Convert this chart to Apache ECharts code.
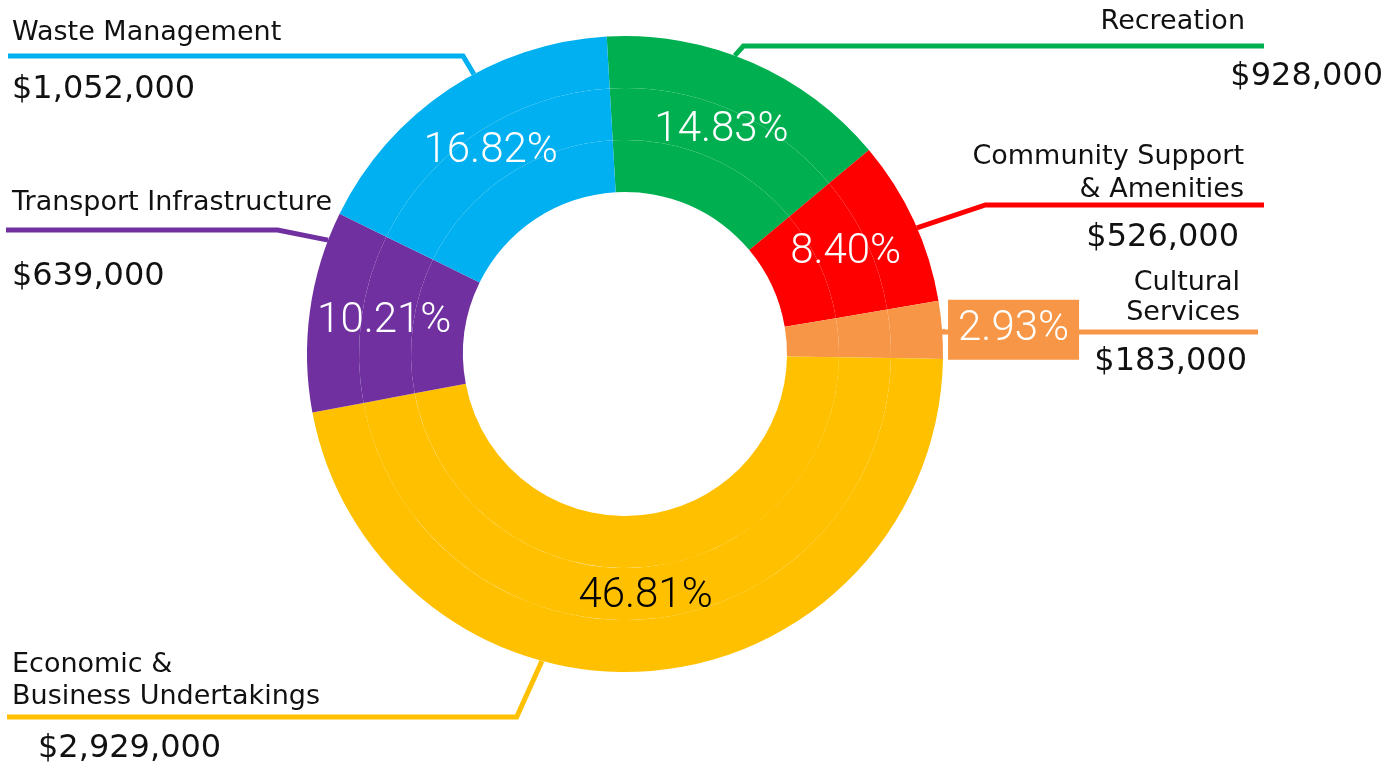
<!DOCTYPE html>
<html><head><meta charset="utf-8">
<script src="https://cdn.jsdelivr.net/npm/echarts/dist/echarts.min.js"></script>
<style>html,body{margin:0;padding:0;background:#fff}#c{width:1400px;height:762px}</style>
</head><body><div id="c"></div>
<script>
// ---- data ----
const categories = ['Recreation', 'Community Support & Amenities', 'Cultural Services',
  'Economic & Business Undertakings', 'Transport Infrastructure', 'Waste Management'];
const categoryLabelLines = [['Recreation'], ['Community Support', '& Amenities'], ['Cultural', 'Services'],
  ['Economic &', 'Business Undertakings'], ['Transport Infrastructure'], ['Waste Management']];
const amounts = [928000, 526000, 183000, 2929000, 639000, 1052000];
const percentLabels = ['14.83%', '8.40%', '2.93%', '46.81%', '10.21%', '16.82%'];

// ---- styles ----
const colors = ['#00B050', '#FF0000', '#F79646', '#FFC000', '#7030A0', '#00B0F0'];
const pctColors = ['#fff', '#fff', '#fff', '#000', '#fff', '#fff'];
// label / leader-line layout per category (anchorShift in degrees, rotates the library's anchor along the rim)
const leader = [
  { side: 'right', lineY: 46,  anchorShift: 3.2,   slope: 0.9,  edge: 17,  nameLH: 62, valLH: 48, namePad: 138, valPad: 0,  endMargin: 136 },
  { side: 'right', lineY: 205, anchorShift: -1.4,  slope: 3.0,  edge: 156, nameLH: 33, valLH: 63, namePad: 0,   valPad: 5,  endMargin: 136 },
  { side: 'right', lineY: 332, anchorShift: 0,     slope: 0.5,  edge: 153, nameLH: 30, valLH: 68, namePad: 7,   valPad: 0,  endMargin: 142 },
  { side: 'left',  lineY: 717, anchorShift: -20.0, slope: 0.45, edge: 12,  nameLH: 32, valLH: 72, namePad: 0,   valPad: 26, endMargin: 7 },
  { side: 'left',  lineY: 230, anchorShift: -13.2, slope: 5.0,  edge: 12,  nameLH: 94, valLH: 54, namePad: 0,   valPad: 0,  endMargin: 6 },
  { side: 'left',  lineY: 56,  anchorShift: -5.2,  slope: 0.6,  edge: 12,  nameLH: 68, valLH: 46, namePad: 0,   valPad: 0,  endMargin: 8 }
];
const CENTER = [625, 354];
const START = 93.3;
const NAME_FONT = 'DejaVu Sans';
const PCT_FONT = 'Roboto';

const chart = echarts.init(document.getElementById('c'), null, { renderer: 'canvas' });
const W = 1400;

function fmtMoney(v) { return '$' + v.toLocaleString('en-US'); }

function baseSeries(radius, z) {
  return {
    type: 'pie', radius: radius, center: CENTER, startAngle: START, clockwise: true,
    avoidLabelOverlap: false, silent: true, z: z, animation: false,
    emphasis: { disabled: true },
    itemStyle: { borderWidth: 0 }
  };
}

const inner = Object.assign(baseSeries([162, 214], 2), {
  label: { show: false }, labelLine: { show: false },
  data: categories.map((c, i) => ({ name: c, value: amounts[i], itemStyle: { color: colors[i] } }))
});

const middle = Object.assign(baseSeries([214, 266], 4), {
  label: {
    show: true, fontFamily: PCT_FONT, fontSize: 42, fontWeight: 300, lineHeight: 42,
    formatter: p => percentLabels[p.dataIndex]
  },
  labelLine: { show: false },
  data: categories.map((c, i) => {
    const d = { name: c, value: amounts[i], itemStyle: { color: colors[i] } };
    if (i === 2) {
      d.label = { position: 'outside', color: '#fff', backgroundColor: colors[i], padding: [9, 10, 9, 10] };
      d.labelLine = { show: false, length: 53, length2: 0 };
    } else {
      d.label = { position: 'inside', color: pctColors[i] };
    }
    return d;
  })
});

const outer = Object.assign(baseSeries([266, 318], 2), {
  label: { show: true, position: 'outside' },
  labelLine: { show: true, length: 10, length2: 10, smooth: false },
  labelLayout: function (p) {
    const st = leader[p.dataIndex];
    const pts = p.labelLinePoints;
    if (!pts) return {};
    // rotate the library's rim anchor along the rim
    const dx0 = pts[0][0] - CENTER[0], dy0 = CENTER[1] - pts[0][1];
    const rr = Math.sqrt(dx0 * dx0 + dy0 * dy0);
    const th = Math.atan2(dy0, dx0) + st.anchorShift * Math.PI / 180;
    const p0 = [CENTER[0] + rr * Math.cos(th), CENTER[1] - rr * Math.sin(th)];
    const sign = st.side === 'left' ? -1 : 1;
    const dy = Math.abs(st.lineY - p0[1]);
    const elbow = [p0[0] + sign * dy * st.slope, st.lineY];
    const endX = st.side === 'left' ? st.endMargin : W - st.endMargin;
    return {
      x: st.side === 'left' ? st.edge : W - st.edge,
      y: st.lineY,
      align: st.side,
      verticalAlign: 'middle',
      labelLinePoints: [p0, elbow, [endX, st.lineY]]
    };
  },
  data: categories.map((c, i) => {
    const st = leader[i];
    const right = st.side === 'right';
    const fmt = categoryLabelLines[i].map(t => '{n|' + t + '}').join('\n') + '\n{v|' + fmtMoney(amounts[i]) + '}';
    return {
      name: c, value: amounts[i], itemStyle: { color: colors[i] },
      labelLine: { lineStyle: { color: colors[i], width: 5, cap: 'butt' } },
      label: {
        formatter: fmt,
        rich: {
          n: { fontFamily: NAME_FONT, fontSize: 27, color: '#111', lineHeight: st.nameLH,
               padding: [0, right ? st.namePad : 0, 0, right ? 0 : st.namePad] },
          v: { fontFamily: NAME_FONT, fontSize: 32, color: '#111', lineHeight: st.valLH,
               padding: [0, right ? st.valPad : 0, 0, right ? 0 : st.valPad] }
        }
      }
    };
  })
});

chart.setOption({ backgroundColor: '#fff', animation: false, series: [inner, middle, outer] });
</script></body></html>
